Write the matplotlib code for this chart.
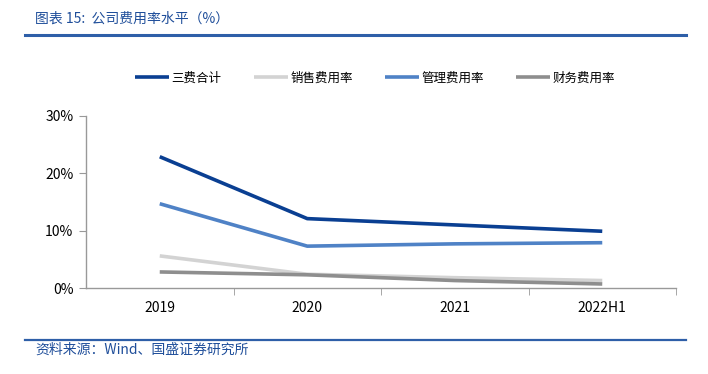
import matplotlib
matplotlib.use("Agg")
import matplotlib.pyplot as plt
from matplotlib.ticker import FixedLocator, PercentFormatter

plt.rcParams['font.family'] = ['Noto Sans CJK SC', 'DejaVu Sans']

categories = ["2019", "2020", "2021", "2022H1"]
series_names = ["三费合计", "销售费用率", "管理费用率", "财务费用率"]
total = [22.9, 12.1, 11.0, 9.9]
sales = [5.6, 2.4, 1.8, 1.3]
admin = [14.7, 7.3, 7.7, 7.9]
finance = [2.8, 2.3, 1.3, 0.7]
yticks = [0, 10, 20, 30]

colors = ["#0a3f92", "#d3d3d3", "#4f82c6", "#8e8e8e"]
values = [total, sales, admin, finance]

fig = plt.figure(figsize=(7.08, 3.74), dpi=100)
ax = fig.add_axes([86/708, 1-288/374, (676-86)/708, (288-116)/374])

x = list(range(len(categories)))
for name, vals, c in zip(series_names, values, colors):
    ax.plot(x, vals, color=c, lw=2.6, label=name, solid_capstyle='butt')

ax.set_xlim(-0.5, 3.5)
ax.set_ylim(0, 30)
ax.set_yticks(yticks)
ax.yaxis.set_major_formatter(PercentFormatter(decimals=0))
ax.set_xticks(x)
ax.set_xticklabels(categories)
ax.xaxis.set_minor_locator(FixedLocator([0.5, 1.5, 2.5, 3.5]))
ax.tick_params(axis='x', which='major', length=0, pad=9, labelsize=10)
ax.tick_params(axis='x', which='minor', length=5, color='#999999', direction='out')
ax.tick_params(axis='y', length=5, color='#999999', direction='out', labelsize=10, pad=4)
for s in ['top', 'right']:
    ax.spines[s].set_visible(False)
for s in ['left', 'bottom']:
    ax.spines[s].set_color('#999999')
    ax.spines[s].set_linewidth(1.0)

fig.legend(loc='center', bbox_to_anchor=(0.53, 1-78/374), ncol=4, frameon=False,
           fontsize=9, handlelength=2.7, handletextpad=0.2, columnspacing=2.6)

# title and header line
fig.text(35/708, 1-19/374, "图表 15:  公司费用率水平（%）", fontsize=10, color='#1f4e9a',
         style='italic', va='center', ha='left')
fig.add_artist(plt.Line2D([25/708, 686/708], [1-35/374, 1-35/374], color='#2e5fa8', lw=2.2))
fig.add_artist(plt.Line2D([25/708, 686/708], [1-340/374, 1-340/374], color='#2e5fa8', lw=1.6))
fig.text(35/708, 1-350/374, "资料来源：Wind、国盛证券研究所", fontsize=10, color='#1f4e9a',
         style='italic', va='center', ha='left')

fig.savefig("out.png", dpi=100)
